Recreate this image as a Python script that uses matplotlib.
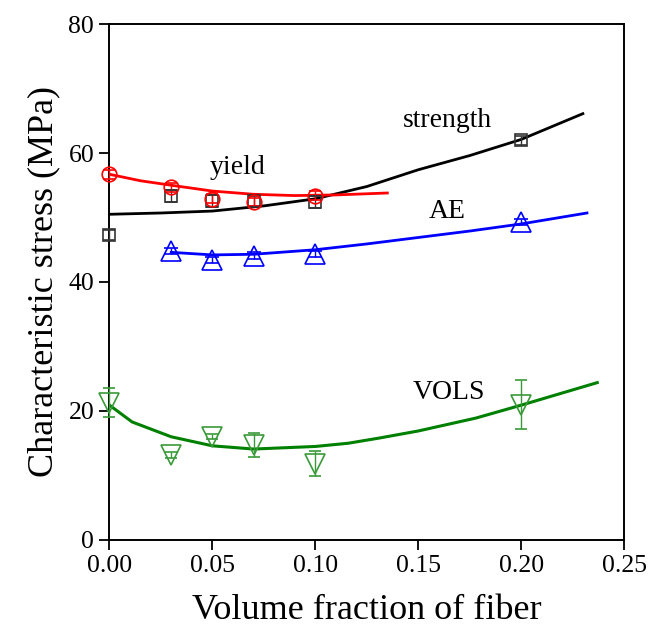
import matplotlib
matplotlib.use("Agg")
import matplotlib.pyplot as plt

plt.rcParams['font.family'] = ['Liberation Serif', 'DejaVu Serif']

# measured points
x_str = [0.00, 0.03, 0.05, 0.07, 0.10, 0.20]
strength = [47.3, 53.3, 52.6, 52.6, 52.4, 62.0]
strength_err = [0.8, 0.9, 0.9, 0.8, 0.9, 0.7]

x_yld = [0.00, 0.03, 0.05, 0.07, 0.10]
yld = [56.7, 54.7, 52.9, 52.4, 53.4]
yld_err = [0.7, 0.7, 0.7, 0.6, 0.7]

x_ae = [0.03, 0.05, 0.07, 0.10, 0.20]
ae = [44.8, 43.4, 44.1, 44.3, 49.3]
ae_err = [0.5, 0.5, 0.5, 0.5, 0.5]

x_vols = [0.00, 0.03, 0.05, 0.07, 0.10, 0.20]
vols = [21.3, 13.2, 16.0, 14.7, 11.8, 21.0]
vols_err = [2.3, 0.5, 0.4, 1.85, 1.95, 3.8]

# fitted curves
fit_str_x = [0.0, 0.025, 0.05, 0.075, 0.10, 0.125, 0.15, 0.175, 0.20, 0.23]
fit_str_y = [50.5, 50.7, 51.0, 51.8, 52.9, 54.8, 57.4, 59.6, 62.1, 66.1]

fit_yld_x = [0.0, 0.015, 0.03, 0.05, 0.07, 0.09, 0.11, 0.135]
fit_yld_y = [56.7, 55.7, 55.0, 54.1, 53.6, 53.4, 53.5, 53.8]

fit_ae_x = [0.03, 0.05, 0.07, 0.10, 0.125, 0.15, 0.175, 0.20, 0.232]
fit_ae_y = [44.6, 44.2, 44.3, 45.0, 45.9, 46.9, 47.9, 49.0, 50.7]

fit_vols_x = [0.0, 0.011, 0.03, 0.05, 0.07, 0.10, 0.116, 0.131, 0.15, 0.178, 0.20, 0.237]
fit_vols_y = [20.9, 18.3, 16.0, 14.6, 14.1, 14.5, 15.0, 15.8, 16.9, 18.9, 20.9, 24.4]

fig = plt.figure(figsize=(6.49, 6.37), dpi=100)
ax = fig.add_axes([0.1687, 0.1523, 0.7928, 0.81])

green_pt = '#3a9a3a'
ebs = []
ebs.append(ax.errorbar(x_str, strength, yerr=strength_err, fmt='s', ms=9, mfc='none', mec='#333333',
                       ecolor='#333333', elinewidth=1, capsize=4, mew=1.2, zorder=3))
ebs.append(ax.errorbar(x_yld, yld, yerr=yld_err, fmt='o', ms=10.5, mfc='none', mec='red',
                       ecolor='red', elinewidth=1, capsize=4, mew=1.2, zorder=3))
ebs.append(ax.errorbar(x_ae, ae, yerr=ae_err, fmt='^', ms=14, mfc='none', mec='blue',
                       ecolor='blue', elinewidth=1, capsize=5, mew=1.2, zorder=3))
ebs.append(ax.errorbar(x_vols, vols, yerr=vols_err, fmt='v', ms=14, mfc='none', mec=green_pt,
                       ecolor=green_pt, elinewidth=1, capsize=4, mew=1.2, zorder=3))
for eb in ebs:
    for art in eb.get_children():
        art.set_clip_on(False)

ax.plot(fit_str_x, fit_str_y, color='black', lw=2, zorder=2)
ax.plot(fit_yld_x, fit_yld_y, color='red', lw=2, zorder=2)
ax.plot(fit_ae_x, fit_ae_y, color='blue', lw=2, zorder=2)
ax.plot(fit_vols_x, fit_vols_y, color='green', lw=2.2, zorder=2)

ax.text(0.062, 57.7, 'yield', fontsize=20, ha='center', va='center')
ax.text(0.164, 65.0, 'strength', fontsize=20, ha='center', va='center')
ax.text(0.164, 51.0, 'AE', fontsize=20, ha='center', va='center')
ax.text(0.165, 22.8, 'VOLS', fontsize=20, ha='center', va='center')

ax.set_xlim(0, 0.25)
ax.set_ylim(0, 80)
ax.set_xticks([0.00, 0.05, 0.10, 0.15, 0.20, 0.25])
ax.set_xticklabels(['0.00', '0.05', '0.10', '0.15', '0.20', '0.25'])
ax.set_yticks([0, 20, 40, 60, 80])
ax.tick_params(direction='out', length=7, width=1.3, labelsize=18.5, pad=4)
for s in ax.spines.values():
    s.set_linewidth(1.4)

ax.set_xlabel('Volume fraction of fiber', fontsize=26, labelpad=12)
ax.set_ylabel('Characteristic stress (MPa)', fontsize=26, labelpad=6)

fig.savefig('out.png', dpi=100)
